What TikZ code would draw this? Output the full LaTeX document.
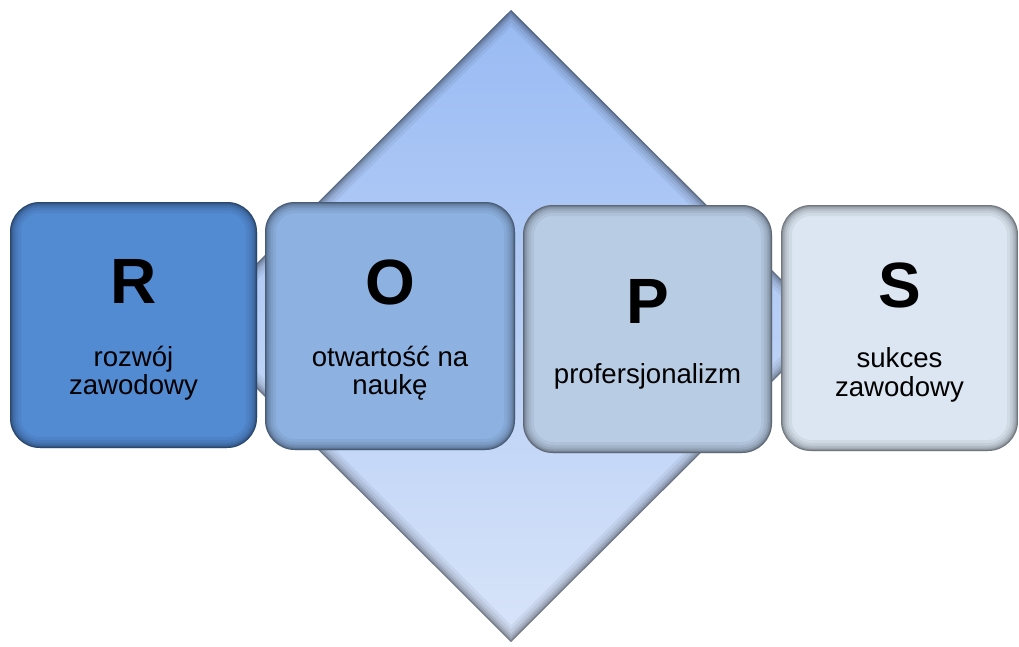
\documentclass[tikz,border=0pt]{standalone}
\usepackage{fontspec}
\setmainfont{Liberation Sans}
\usetikzlibrary{shapes.geometric}
\definecolor{dtop}{RGB}{152,186,243}
\definecolor{dbot}{RGB}{216,228,249}
\definecolor{cR}{RGB}{83,139,211}
\definecolor{cO}{RGB}{141,178,225}
\definecolor{cP}{RGB}{184,204,228}
\definecolor{cS}{RGB}{220,230,242}
\tikzset{
  boxbase/.style={rectangle, rounded corners=30pt, inner sep=0pt, outer sep=0pt},
  letter/.style={anchor=base, inner sep=0pt, font=\fontsize{64}{64}\selectfont\bfseries},
  word/.style={anchor=base, inner sep=0pt, font=\fontsize{27.6}{30}\selectfont},
}
\newcommand\bevbox[6]{%
  \node[boxbase, fill=#6, minimum width=#4, minimum height=#5] (#1) at (#2,#3) {};
  \begin{scope}
    \clip[rounded corners=30pt] (#1.south west) rectangle (#1.north east);
    \foreach \lw/\op in {22/0.05, 16/0.06, 11/0.08, 7/0.1, 4/0.13, 2/0.18}
      \draw[rounded corners=30pt, line width=\lw pt, draw=black, opacity=\op] (#1.south west) rectangle (#1.north east);
  \end{scope}
}
\begin{document}
\begin{tikzpicture}[x=1pt,y=-1pt]
\useasboundingbox (0,0) rectangle (1019,646);
% diamond
\node[diamond, minimum width=634, minimum height=632, inner sep=0pt, outer sep=0pt,
      top color=dtop, bottom color=dbot] (dm) at (511,326) {};
\begin{scope}
  \clip (dm.north) -- (dm.east) -- (dm.south) -- (dm.west) -- cycle;
  \foreach \lw/\op in {24/0.05, 18/0.06, 12/0.08, 8/0.1, 4/0.13, 2/0.15}
    \draw[line width=\lw pt, draw=black, opacity=\op] (dm.north) -- (dm.east) -- (dm.south) -- (dm.west) -- cycle;
\end{scope}
% boxes
\bevbox{R}{133.5}{325}{247}{246}{cR}
\bevbox{O}{390}{326}{250}{248}{cO}
\bevbox{P}{647.5}{329}{249}{248}{cP}
\bevbox{S}{899.5}{328}{237}{246}{cS}
% texts
\node[letter] (rl) at (133.5,303) {R};
\node[word] (r1) at (133.5,366) {rozwój};
\node[word] (r2) at (133.5,394) {zawodowy};
\node[letter] (ol) at (390,304) {O};
\node[word] (o1) at (390,366) {otwartość na};
\node[word] (o2) at (390,394) {naukę};
\node[letter] (pl) at (647.5,323) {P};
\node[word] (p1) at (647.5,383) {profersjonalizm};
\node[letter] (sl) at (899.5,307) {S};
\node[word] (s1) at (899.5,367) {sukces};
\node[word] (s2) at (899.5,396) {zawodowy};
\end{tikzpicture}
\end{document}
